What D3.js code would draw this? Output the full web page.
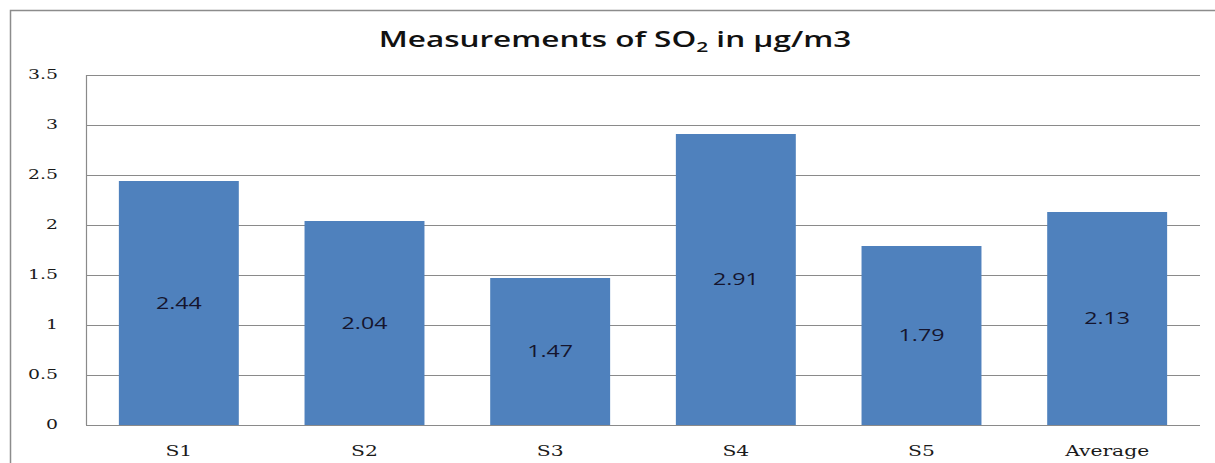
<!DOCTYPE html>
<html><head><meta charset="utf-8">
<script src="https://cdn.jsdelivr.net/npm/d3@7"></script>
<style>body{margin:0;background:#fff}svg{display:block}</style>
</head><body>
<svg id="c" width="1215" height="463"></svg>
<script>
const categories = ["S1","S2","S3","S4","S5","Average"];
const values = [2.44, 2.04, 1.47, 2.91, 1.79, 2.13];
const yTicks = [0, 0.5, 1, 1.5, 2, 2.5, 3, 3.5];
const yTickLabels = ["0","0.5","1","1.5","2","2.5","3","3.5"];

const SX = 1.45; // horizontal stretch of the reference's text
const svg = d3.select("#c");
// outer frame
svg.append("path").attr("d","M10.5,463 L10.5,10.5 L1215,10.5").attr("fill","none").attr("stroke","#8c8c8c").attr("stroke-width",1.5);

const L = 86, R = 1200, T = 75, B = 425;
const x = d3.scaleBand().domain(categories).range([L,R]).paddingInner(0.354).paddingOuter(0.177);
const y = d3.scaleLinear().domain([0,3.5]).range([B,T]);

// gridlines
svg.append("g").selectAll("line").data(yTicks).join("line")
  .attr("x1",L).attr("x2",R).attr("y1",d=>Math.round(y(d))+0.5).attr("y2",d=>Math.round(y(d))+0.5)
  .attr("stroke","#8a8a8a").attr("stroke-width",1.2);

// y axis labels
const yAxis = d3.axisLeft(y).tickValues(yTicks).tickFormat((d,i)=>yTickLabels[i]).tickSize(0).tickPadding(28);
const gy = svg.append("g").attr("transform",`translate(${L},0)`).call(yAxis);
gy.select(".domain").remove();
gy.selectAll("text").attr("font-family","'DejaVu Serif', serif").attr("font-size",13).attr("fill","#1a1a1a")
  .attr("x",-28/SX).attr("transform",`scale(${SX},1)`).attr("dy","0.3em");

// left axis line
svg.append("line").attr("x1",L+0.5).attr("x2",L+0.5).attr("y1",T).attr("y2",B).attr("stroke","#8a8a8a").attr("stroke-width",1.2);

// bars
svg.append("g").selectAll("rect").data(values).join("rect")
  .attr("x",(d,i)=>x(categories[i])).attr("width",x.bandwidth())
  .attr("y",d=>y(d)).attr("height",d=>B-y(d)).attr("fill","#4F81BD");

// value labels
svg.append("g").selectAll("text").data(values).join("text")
  .attr("transform",(d,i)=>`translate(${x(categories[i])+x.bandwidth()/2},${(y(d)+B)/2}) scale(${SX},1)`)
  .attr("dy","0.36em").attr("text-anchor","middle")
  .attr("font-family","'Open Sans', sans-serif").attr("font-size",16).attr("font-weight",500).attr("fill","#15152e")
  .text(d=>d.toFixed(2));

// x axis
const xAxis = d3.axisBottom(x).tickSize(0).tickPadding(0);
const gx = svg.append("g").attr("transform",`translate(0,${B})`).call(xAxis);
gx.select(".domain").remove();
gx.selectAll("text").attr("font-family","'DejaVu Serif', serif").attr("font-size",14).attr("fill","#1a1a1a")
  .attr("y",0).attr("dy",0).attr("transform",`translate(0,31) scale(${SX},1)`);
svg.append("line").attr("x1",L).attr("x2",R).attr("y1",B+0.5).attr("y2",B+0.5).attr("stroke","#8a8a8a").attr("stroke-width",1.2);

// title
const t = svg.append("text").attr("transform",`translate(615,47) scale(1.5,1)`).attr("text-anchor","middle")
  .attr("font-family","'Open Sans', sans-serif").attr("font-size",21).attr("font-weight",600).attr("fill","#111");
t.append("tspan").text("Measurements of SO");
t.append("tspan").attr("font-size",14).attr("dy",5).text("2");
t.append("tspan").attr("dy",-5).text(" in μg/m3");
</script>
</body></html>
